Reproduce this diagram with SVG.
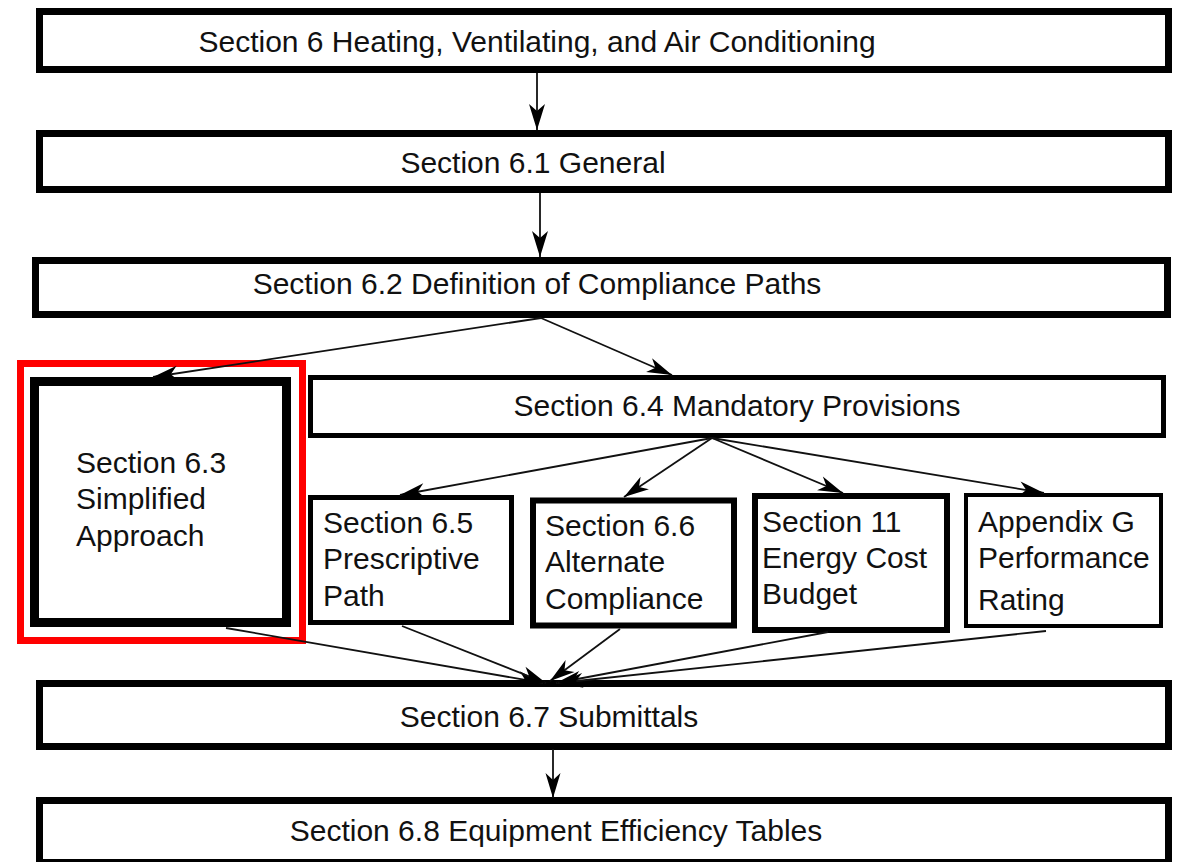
<svg xmlns="http://www.w3.org/2000/svg" width="1178" height="862" viewBox="0 0 1178 862">
<defs>
<style>
.box{fill:#fff;stroke:#000}
.t{font-family:"Liberation Sans",Arial,sans-serif;font-size:30px;fill:#111}
.c{text-anchor:middle}
.ln{fill:none;stroke:#111;stroke-width:1.8}
</style>
<marker id="ah" markerUnits="userSpaceOnUse" markerWidth="30" markerHeight="20" viewBox="-28 -10 30 20" refX="0" refY="0" orient="auto">
<path d="M0,0 L-26,-8 L-19,0 L-26,8 Z" fill="#000"/>
</marker>
<marker id="ahs" markerUnits="userSpaceOnUse" markerWidth="28" markerHeight="20" viewBox="-26 -10 28 20" refX="0" refY="0" orient="auto">
<path d="M0,0 L-25,-7.5 L-18,0 L-25,7.5 Z" fill="#000"/>
</marker>
</defs>
<rect width="1178" height="862" fill="#fff"/>
<g id="n1"><rect class="box" x="39.5" y="11.5" width="1129" height="58" stroke-width="7"/><text class="t c" x="537" y="52">Section 6 Heating, Ventilating, and Air Conditioning</text></g>
<g id="n2"><rect class="box" x="39.5" y="133.5" width="1129" height="56" stroke-width="7"/><text class="t c" x="533" y="173">Section 6.1 General</text></g>
<g id="n3"><rect class="box" x="35.5" y="260.5" width="1132" height="54" stroke-width="7"/><text class="t c" x="537" y="294">Section 6.2 Definition of Compliance Paths</text></g>
<g id="highlight"><rect x="20.5" y="363.5" width="282" height="277" fill="none" stroke="#f00" stroke-width="7"/></g>
<g id="n63"><rect class="box" x="34.5" y="381.5" width="252" height="241" stroke-width="9"/><text class="t" x="76" y="473">Section 6.3</text><text class="t" x="76" y="509">Simplified</text><text class="t" x="76" y="546">Approach</text></g>
<g id="n64"><rect class="box" x="310.5" y="377.5" width="853" height="58" stroke-width="5"/><text class="t c" x="737" y="416">Section 6.4 Mandatory Provisions</text></g>
<g id="n65"><rect class="box" x="310.5" y="497.5" width="201" height="125" stroke-width="5"/><text class="t" x="323" y="533">Section 6.5</text><text class="t" x="323" y="569">Prescriptive</text><text class="t" x="323" y="606">Path</text></g>
<g id="n66"><rect class="box" x="533" y="500.5" width="201" height="125" stroke-width="6"/><text class="t" x="545" y="536">Section 6.6</text><text class="t" x="545" y="572">Alternate</text><text class="t" x="545" y="609">Compliance</text></g>
<g id="n11"><rect class="box" x="755" y="496" width="192" height="134" stroke-width="6"/><text class="t" x="762" y="532">Section 11</text><text class="t" x="762" y="568">Energy Cost</text><text class="t" x="762" y="604">Budget</text></g>
<g id="nG"><rect class="box" x="966" y="495" width="195" height="131" stroke-width="4"/><text class="t" x="978" y="532">Appendix G</text><text class="t" x="978" y="568">Performance</text><text class="t" x="978" y="610">Rating</text></g>
<g id="n67"><rect class="box" x="39.5" y="683.5" width="1129" height="63" stroke-width="7"/><text class="t c" x="549" y="727">Section 6.7 Submittals</text></g>
<g id="n68"><rect class="box" x="39.5" y="800.5" width="1129" height="62" stroke-width="7"/><text class="t c" x="556" y="841">Section 6.8 Equipment Efficiency Tables</text></g>
<g id="connectors">
<line class="ln" x1="537" y1="73" x2="537" y2="130" marker-end="url(#ah)"/>
<line class="ln" x1="540" y1="193" x2="540" y2="257" marker-end="url(#ah)"/>
<line class="ln" x1="541" y1="318" x2="153" y2="377" marker-end="url(#ahs)"/>
<line class="ln" x1="541" y1="318" x2="672" y2="375" marker-end="url(#ahs)"/>
<line class="ln" x1="712" y1="438" x2="400" y2="495" marker-end="url(#ahs)"/>
<line class="ln" x1="712" y1="438" x2="624" y2="497" marker-end="url(#ahs)"/>
<line class="ln" x1="712" y1="438" x2="843" y2="493" marker-end="url(#ahs)"/>
<line class="ln" x1="712" y1="438" x2="1044" y2="493" marker-end="url(#ahs)"/>
<line class="ln" x1="226" y1="628" x2="543" y2="683" marker-end="url(#ahs)"/>
<line class="ln" x1="402" y1="626" x2="546" y2="683" stroke-width="1.2" marker-end="url(#ahs)"/>
<line class="ln" x1="620" y1="629" x2="550" y2="681" marker-end="url(#ahs)"/>
<line class="ln" x1="828" y1="632" x2="556" y2="683" marker-end="url(#ahs)"/>
<line class="ln" x1="1046" y1="631" x2="558" y2="683" marker-end="url(#ahs)"/>
<line class="ln" x1="553" y1="749" x2="553" y2="798" marker-end="url(#ahs)"/>
</g>
</svg>
